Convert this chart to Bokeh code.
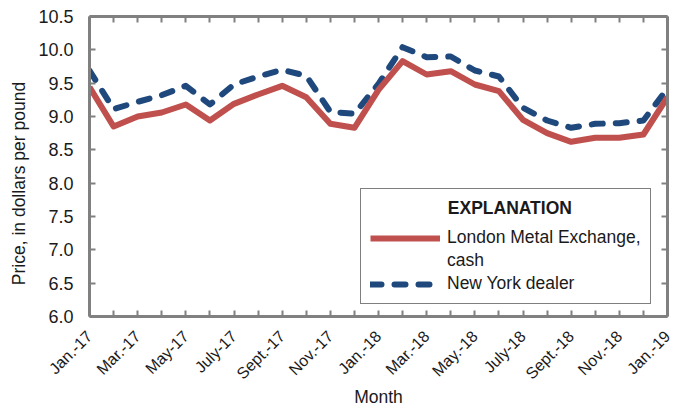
import math
from bokeh.plotting import figure
from bokeh.models import (LinearAxis, FixedTicker, Range1d, Legend, LegendItem,
                          CustomLabelingPolicy)
from bokeh.embed import file_html
from bokeh.resources import INLINE

months = ["Jan.-17", "Feb.-17", "Mar.-17", "Apr.-17", "May-17", "June-17", "July-17",
          "Aug.-17", "Sept.-17", "Oct.-17", "Nov.-17", "Dec.-17", "Jan.-18", "Feb.-18",
          "Mar.-18", "Apr.-18", "May.-18", "June-18", "July-18", "Aug.-18", "Sept.-18",
          "Oct.-18", "Nov.-18", "Dec.-18", "Jan.-19"]
tick_labels = ["Jan.-17", "Mar.-17", "May-17", "July-17", "Sept.-17", "Nov.-17", "Jan.-18",
               "Mar.-18", "May.-18", "July-18", "Sept.-18", "Nov.-18", "Jan.-19"]
lme_cash = [9.44, 8.85, 9.00, 9.06, 9.18, 8.94, 9.19, 9.33, 9.46, 9.29, 8.89, 8.83, 9.40,
            9.83, 9.63, 9.68, 9.48, 9.38, 8.95, 8.75, 8.62, 8.68, 8.68, 8.73, 9.29]
ny_dealer = [9.69, 9.11, 9.22, 9.32, 9.46, 9.18, 9.48, 9.60, 9.70, 9.61, 9.07, 9.04, 9.49,
             10.04, 9.89, 9.90, 9.69, 9.60, 9.13, 8.94, 8.83, 8.89, 8.90, 8.94, 9.42]
y_ticks = [6.0, 6.5, 7.0, 7.5, 8.0, 8.5, 9.0, 9.5, 10.0, 10.5]

FONT = "Liberation Sans"
AX = "#808080"
RED = "#C0504D"
BLUE = "#1F497D"
TXT = "#1a1a1a"
NB = "\u00a0"

x = list(range(len(months)))
labelled = [i for i in x if i % 2 == 0]
unlabelled = [i for i in x if i % 2 == 1]

p = figure(frame_width=578, frame_height=300, output_backend="svg", toolbar_location=None,
           x_range=Range1d(0, len(months) - 1), y_range=Range1d(6.0, 10.5),
           min_border_left=89, min_border_top=16, min_border_right=15, min_border_bottom=94,
           x_axis_location=None, y_axis_location=None)
p.xgrid.visible = False
p.ygrid.visible = False
p.outline_line_color = None
p.background_fill_color = "white"
p.border_fill_color = "white"

xt = FixedTicker(ticks=labelled, minor_ticks=unlabelled)
yt = FixedTicker(ticks=y_ticks, minor_ticks=[])
x_over = {i: tick_labels[k] for k, i in enumerate(labelled)}
y_over = {v: f"{v:.1f}" for v in y_ticks}
hide_all = CustomLabelingPolicy(code="for (const i of indices) { indices.unset(i) }\nreturn indices")


def style(ax, labels=True):
    ax.axis_line_color = AX
    ax.axis_line_width = 3
    ax.major_tick_line_color = AX
    ax.major_tick_line_width = 2
    ax.major_tick_in = 6
    ax.major_tick_out = 0
    ax.minor_tick_line_color = AX
    ax.minor_tick_line_width = 2
    ax.minor_tick_in = 6
    ax.minor_tick_out = 0
    ax.major_label_text_font = FONT
    ax.major_label_text_color = TXT
    ax.axis_label_text_font = FONT
    ax.axis_label_text_font_style = "normal"
    ax.axis_label_text_font_size = "17.5px"
    ax.axis_label_text_color = TXT
    if not labels:
        ax.major_label_policy = hide_all
        ax.major_label_standoff = 0


bottom = LinearAxis(ticker=xt, major_label_overrides=x_over, axis_label="Month")
style(bottom)
bottom.major_label_text_font_size = "16px"
bottom.major_label_orientation = math.pi / 4
bottom.major_label_standoff = 17
bottom.axis_label_standoff = -4
p.add_layout(bottom, "below")

left = LinearAxis(ticker=yt, major_label_overrides=y_over,
                  axis_label="Price, in dollars per pound" + NB * 7)
style(left)
left.major_label_text_font_size = "18px"
left.major_label_standoff = 16
left.axis_label_standoff = 6
p.add_layout(left, "left")

top = LinearAxis(ticker=xt)
style(top, labels=False)
p.add_layout(top, "above")

right = LinearAxis(ticker=yt)
style(right, labels=False)
p.add_layout(right, "right")

r_ny = p.line(x, ny_dealer, line_color=BLUE, line_width=6, line_dash="11 13",
              line_cap="round", line_join="round")
r_lme = p.line(x, lme_cash, line_color=RED, line_width=6, line_join="round")
r_blank = p.line([], [], line_alpha=0)

legend = Legend(items=[LegendItem(label="London Metal Exchange,", renderers=[r_lme]),
                       LegendItem(label="cash", renderers=[r_blank]),
                       LegendItem(label="New York dealer", renderers=[r_ny])],
                location=(271, 12), title=NB * 16 + "EXPLANATION")
legend.title_text_font = FONT
legend.title_text_font_style = "bold"
legend.title_text_font_size = "17.5px"
legend.title_text_color = TXT
legend.title_standoff = 8
legend.label_text_font = FONT
legend.label_text_font_size = "17.5px"
legend.label_text_color = TXT
legend.glyph_width = 70
legend.glyph_height = 20
legend.label_height = 20
legend.label_standoff = 7
legend.spacing = 2
legend.padding = 9
legend.margin = 0
legend.border_line_color = "black"
legend.border_line_width = 1
legend.background_fill_color = "white"
legend.background_fill_alpha = 1
p.add_layout(legend, "center")

open("out.html", "w").write(file_html(p, INLINE))
